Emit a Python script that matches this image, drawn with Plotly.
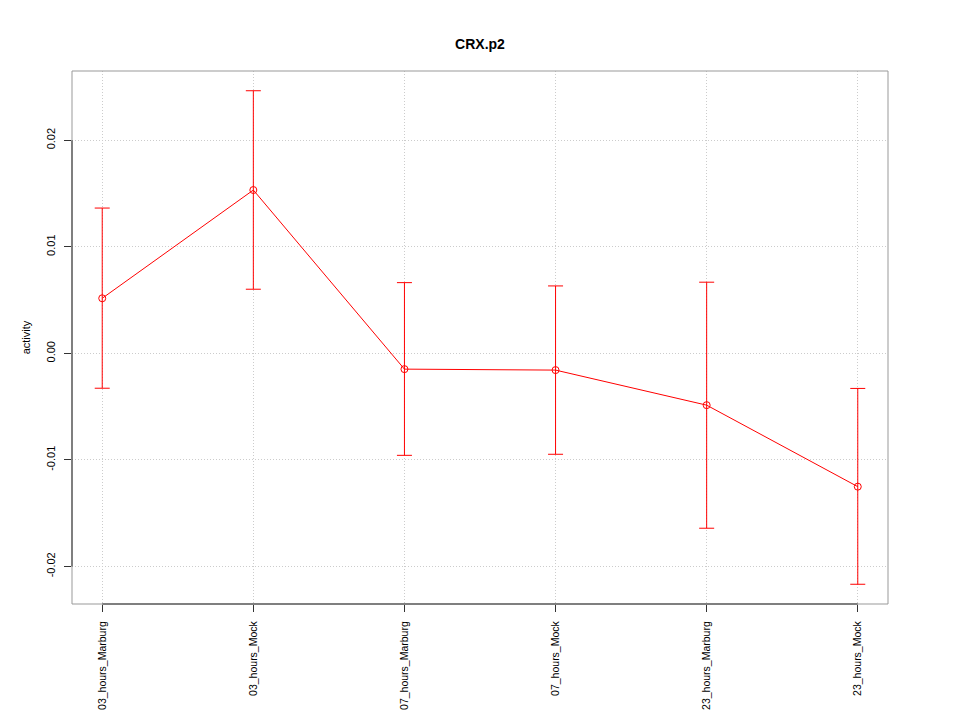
import plotly.graph_objects as go

categories = ["03_hours_Marburg", "03_hours_Mock", "07_hours_Marburg",
              "07_hours_Mock", "23_hours_Marburg", "23_hours_Mock"]
activity = [0.00517, 0.01533, -0.00148, -0.00157, -0.00486, -0.01251]
upper = [0.01364, 0.02465, 0.00664, 0.00633, 0.00668, -0.00329]
lower = [-0.00327, 0.00602, -0.00957, -0.00947, -0.01641, -0.02167]
y_ticks = [-0.02, -0.01, 0.0, 0.01, 0.02]
y_tick_labels = ["-0.02", "-0.01", "0.00", "0.01", "0.02"]

xi = list(range(len(categories)))
err_plus = [u - a for u, a in zip(upper, activity)]
err_minus = [a - l for a, l in zip(activity, lower)]

ymin, ymax = min(lower), max(upper)
pad = 0.04 * (ymax - ymin)
yr = [ymin - pad, ymax + pad]
xpad = 0.04 * (len(categories) - 1)
xr = [-xpad, len(categories) - 1 + xpad]

fig = go.Figure()
fig.add_trace(go.Scatter(
    x=xi, y=activity, mode="lines+markers",
    line=dict(color="#ff0000", width=1),
    marker=dict(symbol="circle-open", size=7, color="#ff0000", line=dict(width=1)),
    error_y=dict(type="data", symmetric=False, array=err_plus, arrayminus=err_minus,
                 color="#ff0000", thickness=1, width=7.5),
    showlegend=False, hoverinfo="skip",
))

font = "Liberation Sans, Arial, Helvetica, sans-serif"
shapes = [
    dict(type="rect", xref="paper", yref="paper", x0=0, x1=1, y0=0, y1=1,
         line=dict(color="#999999", width=1), layer="above"),
    dict(type="line", xref="paper", yref="y", x0=0, x1=0, y0=y_ticks[0], y1=y_ticks[-1],
         line=dict(color="#333333", width=1), layer="above"),
    dict(type="line", xref="x", yref="paper", x0=xi[0], x1=xi[-1], y0=0, y1=0,
         line=dict(color="#333333", width=1), layer="above"),
]

W, H = 960, 720
fig.update_layout(
    width=W, height=H,
    margin=dict(l=72, r=72, t=71, b=116, autoexpand=False),
    paper_bgcolor="white", plot_bgcolor="white",
    font=dict(family=font, size=12, color="black"),
    title=dict(text="<b>CRX.p2</b>", x=0.5, xanchor="center", y=1 - 44 / H,
               yanchor="middle", font=dict(size=14, family=font)),
    shapes=shapes,
    xaxis=dict(range=xr, tickmode="array", tickvals=xi, ticktext=categories,
               tickangle=-90, ticks="outside", ticklen=7, tickcolor="#333333",
               showgrid=True, gridcolor="#cccccc", griddash="1px,2px", gridwidth=1,
               showline=False, zeroline=False, tickfont=dict(size=10.5),
               automargin=False, ticklabelstandoff=5),
    yaxis=dict(range=yr, tickmode="array", tickvals=y_ticks, ticktext=y_tick_labels,
               tickangle=-90, ticks="outside", ticklen=7, tickcolor="#333333",
               showgrid=True, gridcolor="#cccccc", griddash="1px,2px", gridwidth=1,
               showline=False, zeroline=False, tickfont=dict(size=11),
               automargin=False, ticklabelstandoff=5,
               title=dict(text="activity", standoff=11, font=dict(size=11))),
)

fig.write_html("out.html",
               config={"displayModeBar": False},
               post_script="document.body.style.margin='0';"
                           "document.documentElement.style.overflow='hidden';")
